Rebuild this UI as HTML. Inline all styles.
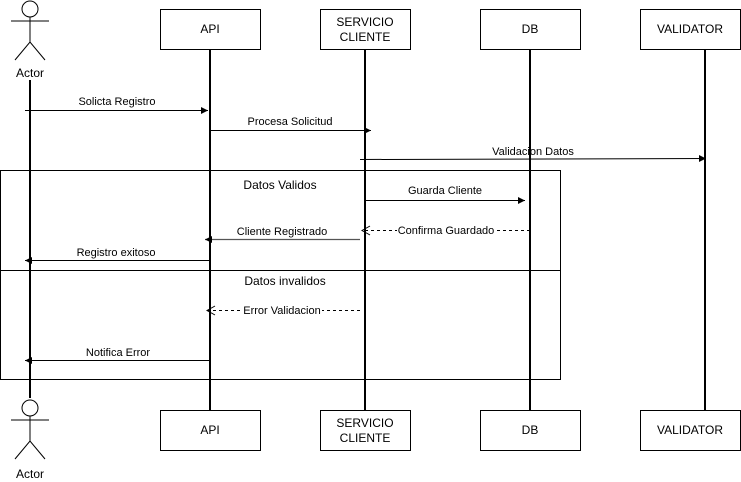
<!DOCTYPE html>
<html><head><style>body{margin:0;background:#fff}svg{display:block}text{font-family:"Liberation Sans",sans-serif;font-size:11px;fill:#000}</style></head><body>
<svg width="741" height="482" viewBox="0 0 741 482">
<defs><marker id="a" markerWidth="8" markerHeight="8" refX="7" refY="4" orient="auto" markerUnits="userSpaceOnUse"><path d="M0,0.5L7,4L0,7.5z" fill="#000"/></marker>
<marker id="o" markerWidth="10" markerHeight="10" refX="9" refY="5" orient="auto" markerUnits="userSpaceOnUse"><path d="M1,0.5L9,5L1,9.5" fill="none" stroke="#000"/></marker></defs>
<g stroke="#000" fill="none">
<rect x="0.5" y="170.5" width="560" height="209"/><line x1="0" y1="270.5" x2="560" y2="270.5"/>
<g stroke-width="2"><line x1="30" y1="80" x2="30" y2="398"/><line x1="210" y1="50" x2="210" y2="410"/><line x1="365" y1="50" x2="365" y2="410"/><line x1="530" y1="50" x2="530" y2="410"/><line x1="705" y1="50" x2="705" y2="410"/></g>
<rect x="160.5" y="9.5" width="100" height="40"/><rect x="320.5" y="9.5" width="90" height="40"/><rect x="480.5" y="9.5" width="100" height="40"/><rect x="640.5" y="9.5" width="100" height="40"/>
<rect x="160.5" y="410.5" width="100" height="40"/><rect x="320.5" y="410.5" width="90" height="40"/><rect x="480.5" y="410.5" width="100" height="40"/><rect x="640.5" y="410.5" width="100" height="40"/>
<circle cx="30" cy="9" r="8"/><line x1="30" y1="17" x2="30" y2="42"/><line x1="11" y1="21" x2="49" y2="21"/><path d="M15,60L30,42L45,60"/>
<circle cx="30" cy="408" r="8"/><line x1="30" y1="416" x2="30" y2="441"/><line x1="11" y1="420" x2="49" y2="420"/><path d="M15,459L30,441L45,459"/>
<line x1="25" y1="110.5" x2="208" y2="110.5" marker-end="url(#a)"/>
<line x1="210" y1="130.5" x2="371" y2="130.5" marker-end="url(#a)"/>
<line x1="360" y1="159.5" x2="706" y2="158.5" marker-end="url(#a)"/>
<line x1="365" y1="200.5" x2="525" y2="200.5" marker-end="url(#a)"/>
<line x1="530" y1="230.5" x2="362" y2="230.5" stroke-dasharray="3,3" marker-end="url(#o)"/>
<line x1="360" y1="239.5" x2="205" y2="239.5" stroke="#555" stroke-width="1.3" marker-end="url(#a)"/>
<line x1="210" y1="260.5" x2="25" y2="260.5" marker-end="url(#a)"/>
<line x1="360" y1="310.5" x2="207" y2="310.5" stroke-dasharray="3,3" marker-end="url(#o)"/>
<line x1="210" y1="360.5" x2="25" y2="360.5" marker-end="url(#a)"/>
</g>
<g text-anchor="middle">
<text x="210" y="33" style="font-size:12px">API</text><text x="365" y="26" style="font-size:12px">SERVICIO</text><text x="365" y="41" style="font-size:12px">CLIENTE</text><text x="530" y="33" style="font-size:12px">DB</text><text x="690" y="33" style="font-size:12px">VALIDATOR</text>
<text x="210" y="434" style="font-size:12px">API</text><text x="365" y="427" style="font-size:12px">SERVICIO</text><text x="365" y="442" style="font-size:12px">CLIENTE</text><text x="530" y="434" style="font-size:12px">DB</text><text x="690" y="434" style="font-size:12px">VALIDATOR</text>
<text x="30" y="77" style="font-size:12px">Actor</text><text x="30" y="478" style="font-size:12px">Actor</text>
<text x="280" y="189" style="font-size:12px">Datos Validos</text><text x="285" y="285" style="font-size:12px">Datos invalidos</text>
<text x="117" y="105">Solicta Registro</text>
<text x="290" y="125">Procesa Solicitud</text>
<text x="533" y="155">Validacion Datos</text>
<text x="445" y="194">Guarda Cliente</text>
<rect x="397" y="223" width="98" height="14" fill="#fff"/><text x="446" y="234">Confirma Guardado</text>
<text x="282" y="235">Cliente Registrado</text>
<text x="116" y="256">Registro exitoso</text>
<rect x="242" y="303" width="80" height="14" fill="#fff"/><text x="282" y="314">Error Validacion</text>
<text x="118" y="356">Notifica Error</text>
</g>
</svg>
</body></html>
